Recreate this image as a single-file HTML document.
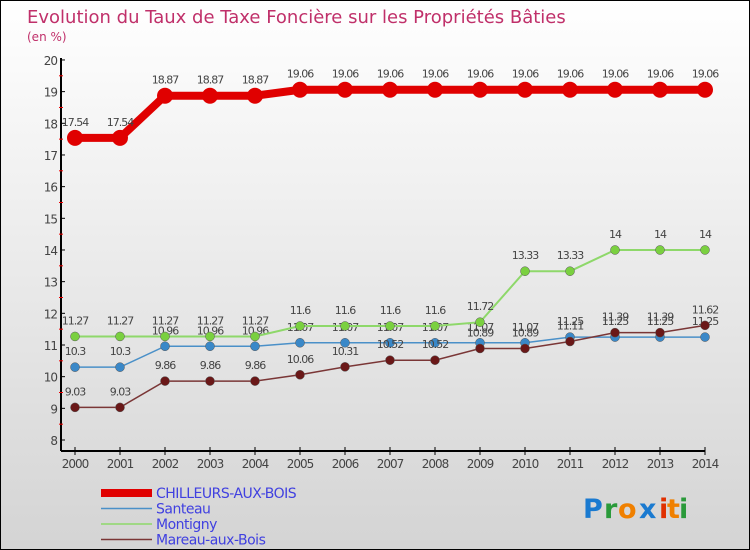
<!DOCTYPE html>
<html><head><meta charset="utf-8"><style>
body{margin:0}
#c{width:748px;height:548px;border:1px solid #000;background:linear-gradient(#fff,#d4d4d4);position:relative;font-family:"DejaVu Sans","Liberation Sans",sans-serif;overflow:hidden}
</style></head><body>
<div id="c">
<svg id="s" width="748" height="548"></svg>
</div>
<script>
const years=[2000,2001,2002,2003,2004,2005,2006,2007,2008,2009,2010,2011,2012,2013,2014];
const chilleurs=[17.54,17.54,18.87,18.87,18.87,19.06,19.06,19.06,19.06,19.06,19.06,19.06,19.06,19.06,19.06];
const santeau=[10.3,10.3,10.96,10.96,10.96,11.07,11.07,11.07,11.07,11.07,11.07,11.25,11.25,11.25,11.25];
const montigny=[11.27,11.27,11.27,11.27,11.27,11.6,11.6,11.6,11.6,11.72,13.33,13.33,14,14,14];
const mareau=[9.03,9.03,9.86,9.86,9.86,10.06,10.31,10.52,10.52,10.89,10.89,11.11,11.39,11.39,11.62];
const yTicks=[8,9,10,11,12,13,14,15,16,17,18,19,20];
const names=["CHILLEURS-AUX-BOIS","Santeau","Montigny","Mareau-aux-Bois"];
const s=document.getElementById('s');const NS='http://www.w3.org/2000/svg';
function X(i){return 74+i*45;}
function Y(v){return 439-(v-8)*31.67;}
function el(t,a,p){const e=document.createElementNS(NS,t);for(const k in a)e.setAttribute(k,a[k]);(p||s).appendChild(e);return e;}
function tx(x,y,str,a,p){const e=el('text',Object.assign({x:x,y:y},a),p);e.textContent=str;return e;}
let t=tx(26,22,"Evolution du Taux de Taxe Foncière sur les Propriétés Bâties",{fill:'#c0306a','font-size':18});

t=tx(26,40,"(en %)",{fill:'#c0306a','font-size':12});

let ax=el('line',{x1:60,y1:57,x2:60,y2:450,stroke:'#000','stroke-width':2});

ax=el('line',{x1:60,y1:450,x2:704,y2:450,stroke:'#000','stroke-width':2});

yTicks.forEach(v=>{el('line',{x1:60,y1:Y(v),x2:64,y2:Y(v),stroke:'#000'});
 if(v<20)el('line',{x1:58,y1:Y(v+0.5),x2:62,y2:Y(v+0.5),stroke:'#e00'});
 const l=tx(56,Y(v)+5,String(v),{fill:'#444','font-size':12,'text-anchor':'end','letter-spacing':-1});
 });
years.forEach((y,i)=>{el('line',{x1:X(i),y1:446,x2:X(i),y2:454,stroke:'#000'});
 const l=tx(X(i),467,String(y),{fill:'#444','font-size':12,'text-anchor':'middle','letter-spacing':-1});
 });
const series=[[santeau,'#4a90c8',1.5,4.5,'#3a88c8'],[montigny,'#8ed86a',2,4.5,'#7ad040'],[mareau,'#7a3636',1.5,4.5,'#6a1818'],[chilleurs,'#e00000',8,8,'#e00000']];
const sn=['series-santeau','series-montigny','series-mareau','series-chilleurs'];
series.forEach((sr,k)=>{const g=el('g',{});
 const d=sr[0].map((v,i)=>X(i)+','+Y(v)).join(' ');
 el('polyline',{points:d,fill:'none',stroke:sr[1],'stroke-width':sr[2]},g);
 sr[0].forEach((v,i)=>{const c=el('circle',{cx:X(i),cy:Y(v),r:sr[3],fill:sr[4],stroke:k==3?'none':'#555','stroke-width':0.5},g);
  
  const l=tx(X(i),Y(v)-12,String(v),{fill:'#444','font-size':11,'text-anchor':'middle','letter-spacing':-1},g);
  });});
const lc=['#e00000','#4a90c8','#8ed86a','#7a3636'],lw=[8,1.5,1.5,1.5];
names.forEach((n,i)=>{const y=492+i*15.5;const g=el('g',{});
 el('line',{x1:100,y1:y,x2:151,y2:y,stroke:lc[i],'stroke-width':lw[i]},g);
 tx(155,y+5,n,{fill:'#4040e0','font-size':14,'letter-spacing':-0.5},g);});
const lg=el('g',{});
[['P','#1a7ad0',582],['r','#2a9a3a',603],['o','#f08000',617],['x','#1a7ad0',638],['i','#e03000',658],['t','#f08000',666],['i','#2a9a3a',678]].forEach(a=>tx(a[2],517,a[0],{fill:a[1],'font-size':27,'font-weight':'bold'},lg));
</script>
</body></html>
